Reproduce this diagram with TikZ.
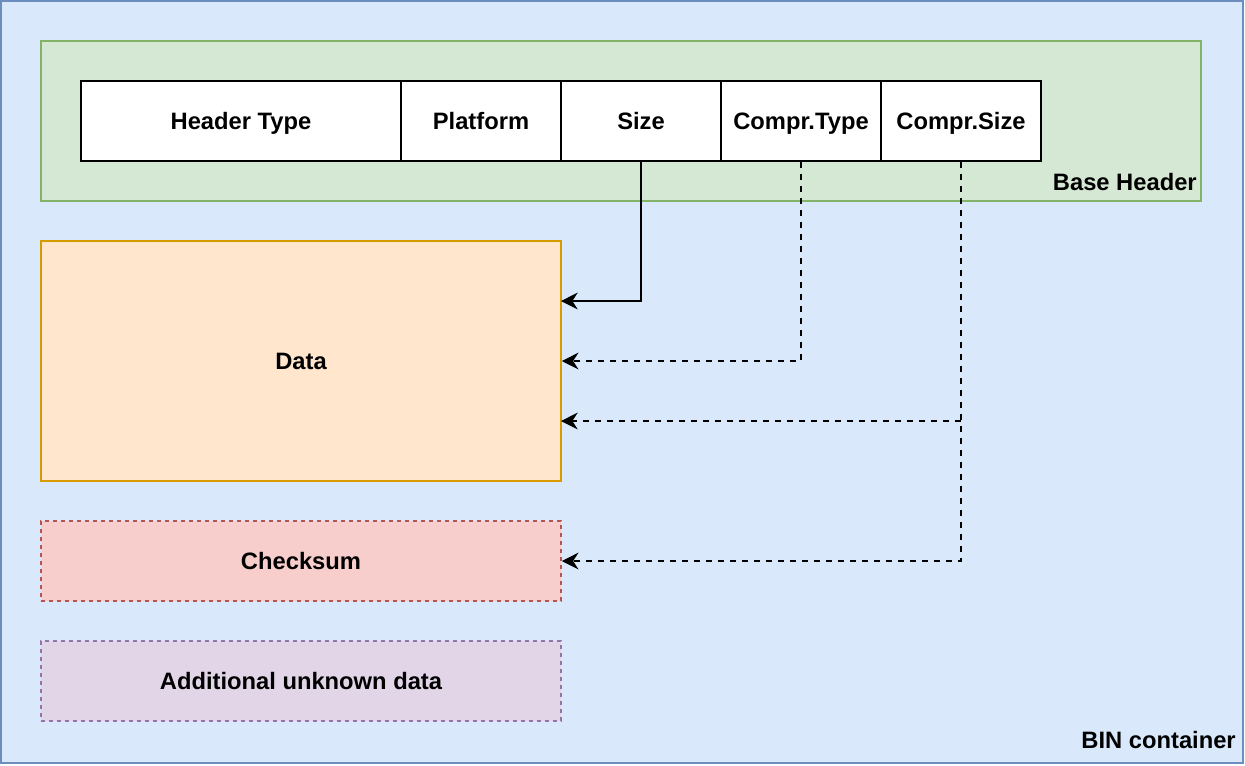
\documentclass[tikz,border=0pt]{standalone}
\usepackage{fontspec}
\setmainfont{Liberation Sans}
\usepackage{tikz}
\usetikzlibrary{arrows.meta,calc}
\definecolor{binfill}{HTML}{DAE8FC}
\definecolor{bindraw}{HTML}{6C8EBF}
\definecolor{hdrfill}{HTML}{D5E8D4}
\definecolor{hdrdraw}{HTML}{82B366}
\definecolor{datfill}{HTML}{FFE6CC}
\definecolor{datdraw}{HTML}{D79B00}
\definecolor{chkfill}{HTML}{F8CECC}
\definecolor{chkdraw}{HTML}{B85450}
\definecolor{unkfill}{HTML}{E1D5E7}
\definecolor{unkdraw}{HTML}{9673A6}

\begin{document}
\begin{tikzpicture}[x=0.75pt,y=-0.75pt,
    every node/.style={font=\fontsize{17.8}{21}\selectfont\bfseries, inner sep=0pt, text height=12.7pt, text depth=0pt},
    box/.style={draw, rectangle, line width=1.15pt},
    field/.style={box, fill=white, draw=black, minimum height=60pt},
    link/.style={line width=1.15pt, -{Stealth[length=12.5pt,width=12.5pt,inset=4pt]}},
    dashlink/.style={link, dash pattern=on 4.5pt off 4.5pt}]
    \useasboundingbox (0,0) rectangle (1245,765); % keeps the margins

    % containers
    \node[box, fill=binfill, draw=bindraw, minimum width=931.5pt, minimum height=571.5pt] (bin) at (622,382) {};
    \node[box, fill=hdrfill, draw=hdrdraw, minimum width=870pt, minimum height=120pt] (base) at (621,121) {};
    \node[anchor=east] (binlabel) at (1236,740) {BIN container};
    \node[anchor=east] (baselabel) at (1197,182) {Base Header};

    % header fields
    \node[field, minimum width=240pt] (htype) at (241,121) {Header Type};
    \foreach \name/\txt/\x in {platform/Platform/481, size/Size/641, ctype/Compr.Type/801, csize/Compr.Size/961}{%
      \node[field, minimum width=120pt] (\name) at (\x,121) {\txt};
    }

    % payload blocks
    \node[box, fill=datfill, draw=datdraw, minimum width=390pt, minimum height=180pt] (data) at (301,361) {Data};
    \node[box, fill=chkfill, draw=chkdraw, dash pattern=on 3pt off 3pt, minimum width=390pt, minimum height=60pt] (check) at (301,561) {Checksum};
    \node[box, fill=unkfill, draw=unkdraw, dash pattern=on 3pt off 3pt, minimum width=390pt, minimum height=60pt] (unknown) at (301,681) {Additional unknown data};

    % where the fields point to
    \coordinate (inSize) at (561,301);
    \coordinate (inCsize) at (561,421);
    \draw[link] (size.south) |- (inSize);
    \draw[dashlink] (ctype.south) |- (data.east);
    \draw[dashlink] (csize.south) |- (check.east);
    \draw[dashlink] (csize.south |- inCsize) -- (inCsize);
\end{tikzpicture}
\end{document}
